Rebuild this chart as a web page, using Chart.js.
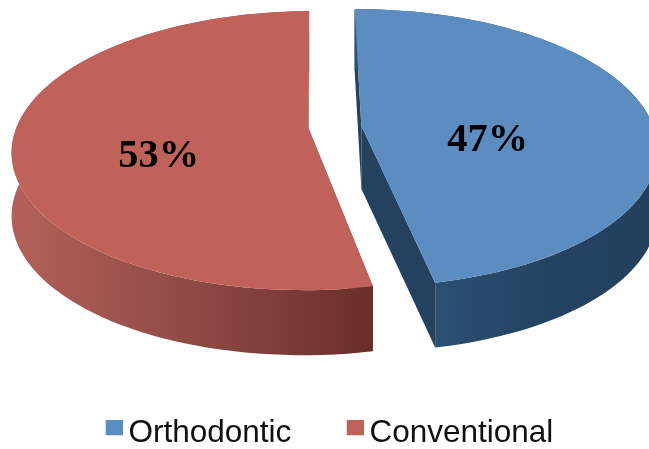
<!DOCTYPE html>
<html>
<head>
<meta charset="utf-8">
<title>Orthodontic vs Conventional</title>
<script src="https://cdn.jsdelivr.net/npm/chart.js@4"></script>
<style>
    html, body { margin: 0; padding: 0; background: #fff; }
    canvas { display: block; }
</style>
</head>
<body>
<canvas id="pie" width="649" height="449"></canvas>
<script>
const categories = ['Orthodontic', 'Conventional'];
const shares = [47, 53];
const topColors = ['#5b8dc0', '#c1625a'];
const wallStops = [
    ['#2b5071', '#244363', '#233f5d'],
    ['#b4605a', '#8f4a44', '#692e2a']
];
const cutColors = ['#24425f', '#692e2a'];
const labelRadius = [0.44, 0.51];

// tilted disc settings, screen pixels
const centerX = 335, centerY = 127;
const radiusX = 292, radiusY = 135.5;
const perspective = 0.16;
const wallDepth = 63, wallGrow = 2;
const labelDrop = 21;

function project(arc, angle, frac, wall) {
    const mid = (arc.startAngle + arc.endAngle) / 2;
    const r = arc.outerRadius;
    const offset = arc.options.offset / r;
    const u = frac * Math.cos(angle) + offset * Math.cos(mid);
    const v = frac * Math.sin(angle) + offset * Math.sin(mid);
    const f = 1 / (1 - perspective * v);
    return {
        x: centerX + radiusX * u * f,
        y: centerY + radiusY * v * f + (wall ? wallDepth + wallGrow * v : 0)
    };
}

function arcPoints(arc, wall) {
    const pts = [];
    const steps = 90;
    for (let i = 0; i <= steps; i++) {
        const a = arc.startAngle + (arc.endAngle - arc.startAngle) * i / steps;
        pts.push(project(arc, a, 1, wall));
    }
    return pts;
}

function fillPath(ctx, pts, style) {
    ctx.beginPath();
    pts.forEach(function(p, i) {
        if (i === 0) ctx.moveTo(p.x, p.y);
        else ctx.lineTo(p.x, p.y);
    });
    ctx.closePath();
    ctx.fillStyle = style;
    ctx.fill();
}

// draws the arcs as a thick tilted disc instead of the flat default
const tiltedPie = {
    id: 'tiltedPie',
    beforeDatasetsDraw(chart) {
        const ctx = chart.ctx;
        const arcs = chart.getDatasetMeta(0).data;
        ctx.save();
        arcs.forEach(function(arc, i) {
            const top = arcPoints(arc, false);
            const bottom = arcPoints(arc, true);
            const apexTop = project(arc, 0, 0, false);
            const apexBottom = project(arc, 0, 0, true);
            const last = top.length - 1;

            // cut faces
            fillPath(ctx, [apexTop, top[0], bottom[0], apexBottom], cutColors[i]);
            fillPath(ctx, [apexTop, top[last], bottom[last], apexBottom], cutColors[i]);

            // outer wall, shaded left to right
            const xs = top.map(function(p) { return p.x; });
            const frontX = project(arc, Math.PI / 2 - 0.2, 1, false).x;
            const x0 = i === 0 ? frontX : Math.min.apply(null, xs);
            const x1 = i === 0 ? Math.max.apply(null, xs) : frontX;
            const grad = ctx.createLinearGradient(x0, 0, x1, 0);
            wallStops[i].forEach(function(c, k) {
                grad.addColorStop(k / (wallStops[i].length - 1), c);
            });
            fillPath(ctx, top.concat(bottom.slice().reverse()), grad);

            // top face
            fillPath(ctx, [apexTop].concat(top), topColors[i]);
        });

        // percent labels
        ctx.fillStyle = '#000';
        ctx.font = 'bold 40.5px "Liberation Serif"';
        ctx.textAlign = 'center';
        ctx.textBaseline = 'middle';
        arcs.forEach(function(arc, i) {
            const mid = (arc.startAngle + arc.endAngle) / 2;
            const p = project(arc, mid, labelRadius[i], false);
            ctx.fillText(shares[i] + '%', p.x, p.y + labelDrop);
        });
        ctx.restore();
        return false;
    }
};

// legend swatch with spare transparent room so it sits close to its text
function swatch(color) {
    const c = document.createElement('canvas');
    c.width = 21;
    c.height = 27;
    const g = c.getContext('2d');
    g.fillStyle = color;
    g.fillRect(4, 0, 17, 15);
    return c;
}

new Chart(document.getElementById('pie'), {
    type: 'pie',
    data: {
        labels: categories,
        datasets: [{
            data: shares,
            backgroundColor: topColors,
            offset: 15.5,
            borderWidth: 0
        }]
    },
    options: {
        responsive: false,
        animation: false,
        rotation: -0.7,
        layout: { padding: { left: 16, bottom: -10.5 } },
        plugins: {
            tooltip: { enabled: false },
            legend: {
                position: 'bottom',
                labels: {
                    usePointStyle: true,
                    boxWidth: 1,
                    padding: 61.5,
                    font: { family: '"Liberation Sans"', size: 31.5 },
                    generateLabels: function(chart) {
                        return chart.data.labels.map(function(text, i) {
                            return {
                                text: text,
                                fontColor: '#111',
                                pointStyle: swatch(topColors[i]),
                                fillStyle: topColors[i],
                                lineWidth: 0,
                                index: i
                            };
                        });
                    }
                }
            }
        }
    },
    plugins: [tiltedPie]
});
</script>
</body>
</html>
